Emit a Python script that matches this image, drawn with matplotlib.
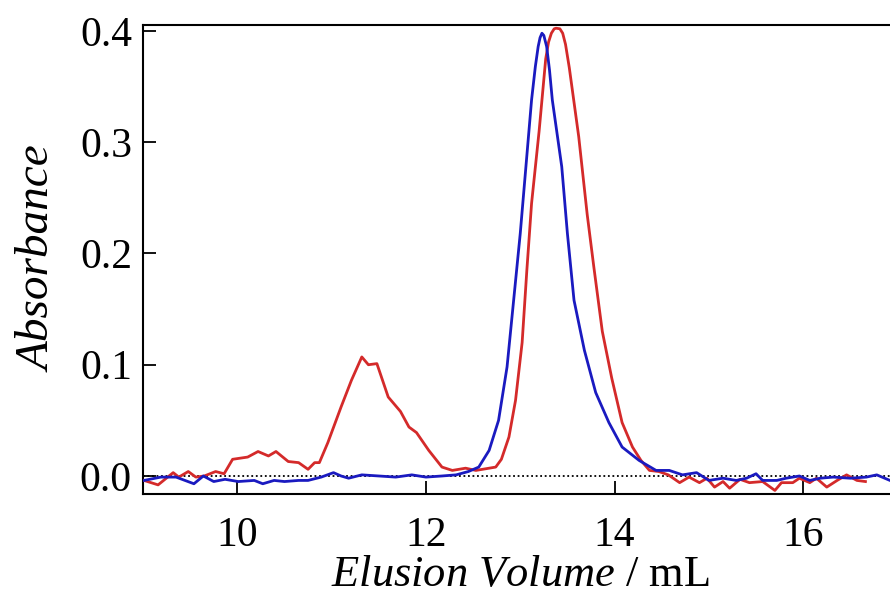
import matplotlib
matplotlib.use("Agg")
import matplotlib.pyplot as plt

# Red trace
red_x = [9.01, 9.16, 9.32, 9.38, 9.48, 9.56, 9.65, 9.77, 9.86, 9.95,
         10.11, 10.22, 10.33, 10.41, 10.54, 10.65, 10.75, 10.82, 10.87, 10.96,
         11.10, 11.21, 11.32, 11.39, 11.48, 11.60, 11.73, 11.82, 11.90, 12.03,
         12.17, 12.28, 12.42, 12.53, 12.67, 12.74, 12.80, 12.88, 12.95, 13.02,
         13.07, 13.12, 13.20, 13.27, 13.30, 13.33, 13.36, 13.38, 13.42, 13.45,
         13.48, 13.52, 13.62, 13.71,
         13.78, 13.87, 13.97, 14.08, 14.19, 14.28, 14.37, 14.47, 14.57, 14.69,
         14.79, 14.90, 14.98, 15.06, 15.15, 15.22, 15.33, 15.43, 15.57, 15.70,
         15.77, 15.89, 15.96, 16.07, 16.14, 16.25, 16.36, 16.46, 16.57, 16.66]
red_y = [-0.004, -0.008, 0.003, -0.001, 0.004, -0.001, 0.000, 0.004, 0.002, 0.015,
         0.017, 0.022, 0.018, 0.022, 0.013, 0.012, 0.006, 0.012, 0.012, 0.030,
         0.062, 0.086, 0.107, 0.100, 0.101, 0.071, 0.058, 0.044, 0.039, 0.023,
         0.008, 0.005, 0.007, 0.005, 0.007, 0.008, 0.015, 0.035, 0.068, 0.120,
         0.185, 0.245, 0.310, 0.375, 0.390, 0.398, 0.402, 0.4025, 0.402, 0.398,
         0.388, 0.367, 0.305, 0.235,
         0.188, 0.130, 0.088, 0.048, 0.026, 0.014, 0.005, 0.004, 0.001, -0.006,
         -0.001, -0.006, -0.002, -0.010, -0.005, -0.011, -0.003, -0.006, -0.005, -0.013,
         -0.006, -0.006, -0.002, -0.006, -0.002, -0.010, -0.004, 0.001, -0.004, -0.005]

# Blue trace
blue_x = [9.01, 9.19, 9.35, 9.54, 9.64, 9.75, 9.87, 10.01, 10.18, 10.27,
          10.39, 10.50, 10.65, 10.75, 10.89, 11.02, 11.10, 11.18, 11.32, 11.50,
          11.68, 11.85, 12.00, 12.17, 12.32, 12.45, 12.56, 12.67, 12.77, 12.86,
          12.93, 13.00, 13.06, 13.12, 13.16, 13.19, 13.21, 13.23, 13.25, 13.28,
          13.31, 13.34, 13.44, 13.50,
          13.57, 13.68, 13.80, 13.94, 14.08, 14.26, 14.44, 14.58, 14.72, 14.87,
          15.00, 15.15, 15.29, 15.40, 15.50, 15.57, 15.72, 15.82, 15.96, 16.07,
          16.18, 16.32, 16.50, 16.67, 16.78, 16.92]
blue_y = [-0.004, -0.001, -0.001, -0.007, 0.000, -0.005, -0.003, -0.005, -0.004, -0.007,
          -0.004, -0.005, -0.004, -0.004, -0.001, 0.003, 0.000, -0.002, 0.001, 0.000,
          -0.001, 0.001, -0.001, 0.000, 0.001, 0.004, 0.008, 0.023, 0.050, 0.098,
          0.158, 0.218, 0.278, 0.338, 0.368, 0.386, 0.394, 0.398, 0.396, 0.386,
          0.365, 0.338, 0.278, 0.218,
          0.158, 0.113, 0.075, 0.048, 0.026, 0.014, 0.005, 0.005, 0.001, 0.003,
          -0.004, -0.002, -0.004, -0.002, 0.002, -0.004, -0.004, -0.002, 0.000, -0.004,
          -0.002, -0.001, -0.002, -0.001, 0.001, -0.004]

x_ticks = [10, 12, 14, 16]
y_ticks = [0.0, 0.1, 0.2, 0.3, 0.4]
y_tick_labels = ["0.0", "0.1", "0.2", "0.3", "0.4"]

plt.rcParams['font.family'] = ['Liberation Serif', 'DejaVu Serif']
plt.rcParams['mathtext.fontset'] = 'custom'
plt.rcParams['mathtext.rm'] = 'Liberation Serif'
plt.rcParams['mathtext.it'] = 'Liberation Serif:italic'

fig = plt.figure(figsize=(8.9, 5.98), dpi=100)
ax = fig.add_axes([143/890, 1 - 494/598, (897.5 - 143)/890, (494 - 25)/598])

ax.axhline(0, color='black', linestyle=(0, (1, 1.5)), linewidth=1.3, zorder=1)
ax.plot(red_x, red_y, color='#d42a2a', linewidth=2.0, zorder=3)
ax.plot(blue_x, blue_y, color='#1a1ac0', linewidth=2.0, zorder=4)

ax.set_xlim(9.0, 17.0)
ax.set_ylim(-0.0162, 0.4054)
ax.set_xticks(x_ticks)
ax.set_xticklabels([str(t) for t in x_ticks])
ax.set_yticks(y_ticks)
ax.set_yticklabels(y_tick_labels)

for s in ax.spines.values():
    s.set_linewidth(1.5)
ax.tick_params(direction='in', length=9.5, width=1.3, labelsize=30, pad=8)
ax.tick_params(axis='x', pad=16)

ax.set_ylabel('Absorbance', fontsize=34, style='italic', labelpad=14)
ax.set_xlabel(r'$\mathit{Elusion\ Volume}$ / mL', fontsize=32, labelpad=0)

fig.savefig('out.png', dpi=100)
